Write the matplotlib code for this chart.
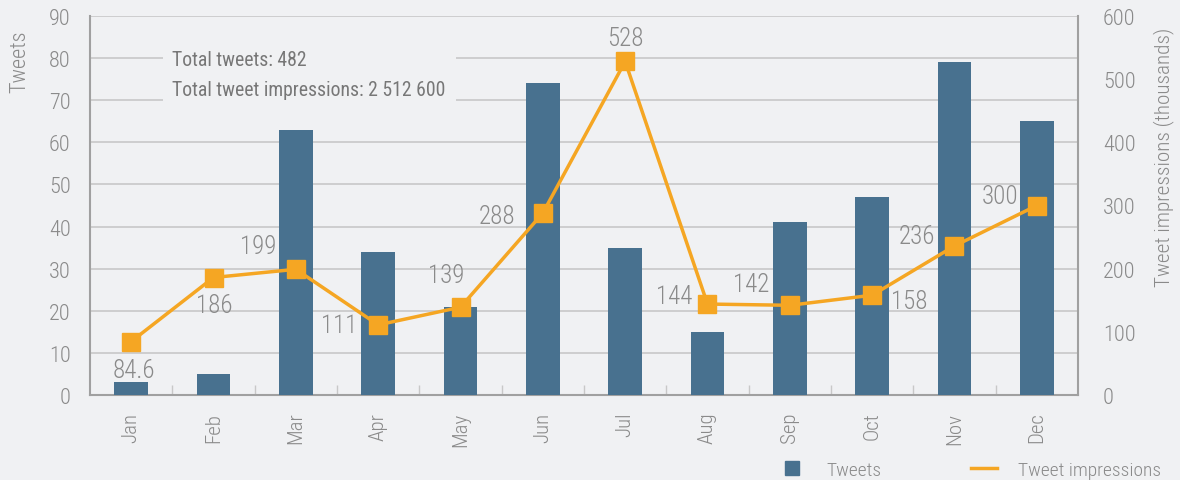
import matplotlib
matplotlib.use("Agg")
import matplotlib.pyplot as plt
from matplotlib import font_manager as fm
from matplotlib.lines import Line2D
from matplotlib.patches import Rectangle
import numpy as np

months = ["Jan", "Feb", "Mar", "Apr", "May", "Jun", "Jul", "Aug", "Sep", "Oct", "Nov", "Dec"]
tweets = [3, 5, 63, 34, 21, 74, 35, 15, 41, 47, 79, 65]
impressions = [84.6, 186, 199, 111, 139, 288, 528, 144, 142, 158, 236, 300]
impression_labels = ["84.6", "186", "199", "111", "139", "288", "528", "144", "142", "158", "236", "300"]
# label placement relative to the marker (pixels): dx, dy (up positive), ha
label_off = [(3, -28, 'center'), (1, -27, 'center'), (-19, 23, 'right'), (-21, 0, 'right'),
             (-14, 32, 'center'), (-27, -3, 'right'), (0, 23, 'center'), (-15, 8, 'right'),
             (-20, 21, 'right'), (19, -6, 'left'), (-19, 10, 'right'), (-18, 9, 'right')]

names = {f.name for f in fm.fontManager.ttflist}
fam = [n for n in ["Roboto Condensed", "Liberation Sans Narrow", "DejaVu Sans"] if n in names]
plt.rcParams['font.family'] = fam

BG = "#f0f1f3"
BAR = "#48718f"
ORANGE = "#f5a623"
TXT = "#8a8a8a"
GRID = "#c8c8c8"
W, H = 1180, 481

fig = plt.figure(figsize=(W/100, H/100), dpi=100, facecolor=BG)
ax = fig.add_axes([90/W, 1-396/H, (1078-90)/W, (396-17)/H])
ax.set_facecolor(BG)
x = np.arange(len(months))
ax.bar(x, tweets, width=0.41, color=BAR, zorder=3)
ax.set_xlim(-0.5, 11.5)
ax.set_ylim(0, 90)
ax.set_yticks(range(0, 91, 10))
ax.grid(axis='y', color=GRID, linewidth=1.2, zorder=0)
ax.set_axisbelow(True)
ax.spines["top"].set_visible(False)
for s in ["left", "bottom", "right"]:
    ax.spines[s].set_color("#a0a0a0")
    ax.spines[s].set_linewidth(1.5)
ax.set_xticks(x)
ax.set_xticklabels(months, rotation=90, color=TXT, fontsize=15, fontweight='light')
ax.tick_params(axis='x', length=0, pad=12)
ax.set_xticks(np.arange(0.5, 11, 1), minor=True)
ax.tick_params(axis='x', which='minor', length=7, direction='in', color="#c8c8c8", width=1)
ax.tick_params(axis='y', length=0, pad=14, labelcolor=TXT, labelsize=16)
for t in ax.get_yticklabels():
    t.set_fontweight('light')

ax2 = ax.twinx()
ax2.set_ylim(0, 600)
ax2.set_yticks(range(0, 601, 100))
ax2.tick_params(axis='y', length=0, pad=18, labelcolor=TXT, labelsize=16)
for t in ax2.get_yticklabels():
    t.set_fontweight('light')
for s in ax2.spines.values():
    s.set_visible(False)
ax2.plot(x, impressions, color=ORANGE, linewidth=2.5, marker='s', markersize=13, zorder=4)

for xi, yi, lab, (dx, dy, ha) in zip(x, impressions, impression_labels, label_off):
    ax2.annotate(lab, (xi, yi), xytext=(dx*0.72, dy*0.72), textcoords='offset points', ha=ha, va='center',
                 color=TXT, fontsize=18, fontweight='light', zorder=5)

fig.text(20/W, 1-62/H, "Tweets", rotation=90, ha='center', va='center', color=TXT, fontsize=16, fontweight='light')
fig.text(1164/W, 1-157/H, "Tweet impressions (thousands)", rotation=90, ha='center', va='center',
         color=TXT, fontsize=15.3, fontweight='light')

fig.text(172/W, 1-60/H, "Total tweets: 482", ha='left', va='center', color="#777777", fontsize=14.2, zorder=2)
fig.text(172/W, 1-90/H, "Total tweet impressions: 2 512 600", ha='left', va='center', color="#777777",
         fontsize=14.2, zorder=2)
# background patch behind the summary text, interrupting the gridlines
fig.patches.append(Rectangle((163/W, 1-106/H), (456-163)/W, (106-44)/H, transform=fig.transFigure,
                             facecolor=BG, edgecolor='none', zorder=1.5))

fs = 14
fspx = fs * 100 / 72
leg_kw = dict(frameon=False, labelcolor=TXT, handlelength=26/fspx, handletextpad=21/fspx,
              borderpad=0, borderaxespad=0, prop={'weight': 'light', 'size': fs})
leg1 = fig.legend([Line2D([], [], marker='s', color=BAR, linestyle='none', markersize=10.5)], ["Tweets"],
                  loc='center left', bbox_to_anchor=(779/W, 1-471/H), **leg_kw)
leg2 = fig.legend([Line2D([], [], color=ORANGE, linewidth=2.5)], ["Tweet impressions"],
                  loc='center left', bbox_to_anchor=(971/W, 1-471/H), **leg_kw)

fig.savefig("out.png", dpi=100, facecolor=BG)
